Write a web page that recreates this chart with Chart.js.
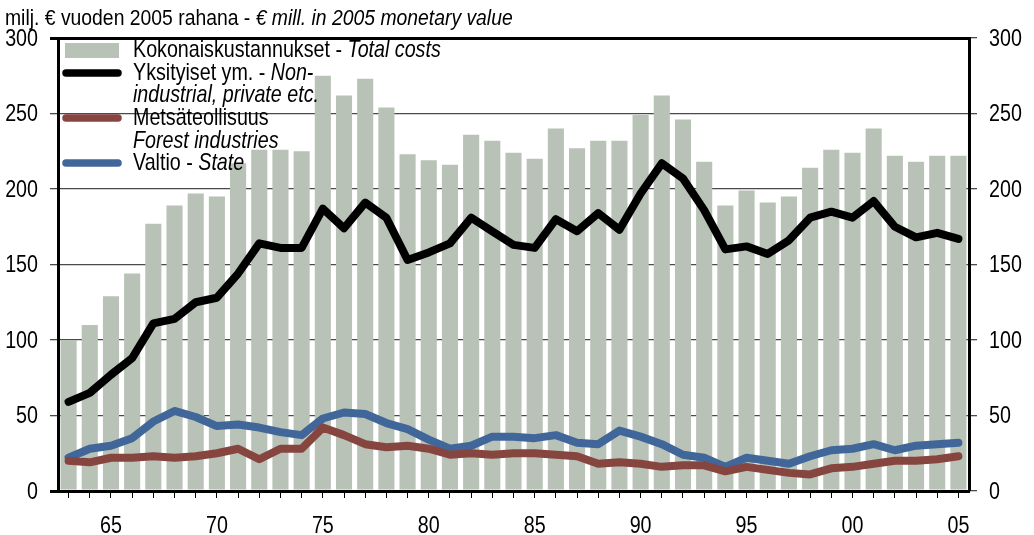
<!DOCTYPE html>
<html>
<head>
<meta charset="utf-8">
<script src="https://cdn.jsdelivr.net/npm/chart.js@4.4.0/dist/chart.umd.min.js"></script>
<style>
  html, body { margin: 0; padding: 0; background: #fff; }
  #wrap { width: 1034px; height: 535px; }
</style>
</head>
<body>
<div id="wrap"><canvas id="kustannukset"></canvas></div>
<script>
// years 1963 - 2005
const years = [1963, 1964, 1965, 1966, 1967, 1968, 1969, 1970, 1971, 1972,
  1973, 1974, 1975, 1976, 1977, 1978, 1979, 1980, 1981, 1982,
  1983, 1984, 1985, 1986, 1987, 1988, 1989, 1990, 1991, 1992,
  1993, 1994, 1995, 1996, 1997, 1998, 1999, 2000, 2001, 2002,
  2003, 2004, 2005];

// Kokonaiskustannukset - Total costs
const totalCosts = [100, 110, 129, 144, 177, 189, 197, 195, 217, 226,
  226, 225, 275, 262, 273, 254, 223, 219, 216, 236,
  232, 224, 220, 240, 227, 232, 232, 249, 262, 246,
  218, 189, 199, 191, 195, 214, 226, 224, 240, 222,
  218, 222, 222];

// Yksityiset ym. - Non-industrial, private etc.
const privateOwners = [59, 65, 77, 88, 111, 114, 125, 128, 144, 164,
  161, 161, 187, 174, 191, 181, 153, 158, 164, 181,
  172, 163, 161, 180, 172, 184, 173, 197, 217, 207,
  186, 160, 162, 157, 166, 181, 185, 181, 192, 175,
  168, 171, 167];

// Metsäteollisuus - Forest industries
const forestIndustries = [20, 19, 22, 22, 23, 22, 23, 25, 28, 21,
  28, 28, 42, 37, 31, 29, 30, 28, 24, 25,
  24, 25, 25, 24, 23, 18, 19, 18, 16, 17,
  17, 13, 16, 14, 12, 11, 15, 16, 18, 20,
  20, 21, 23];

// Valtio - State
const state = [22, 28, 30, 35, 46, 53, 49, 43, 44, 42,
  39, 37, 48, 52, 51, 45, 41, 34, 28, 30,
  36, 36, 35, 37, 32, 31, 40, 36, 31, 24,
  22, 16, 22, 20, 18, 23, 27, 28, 31, 27,
  30, 31, 32];

const yTicks = [0, 50, 100, 150, 200, 250, 300];
const xTickLabels = ['65', '70', '75', '80', '85', '90', '95', '00', '05'];

const titleParts = [['milj. € vuoden 2005 rahana - ', false], ['€ mill. in 2005 monetary value', true]];
const legendLines = [
  [['Kokonaiskustannukset - ', false], ['Total costs', true]],
  [['Yksityiset ym. - ', false], ['Non-', true]],
  [['industrial, private etc.', true]],
  [['Metsäteollisuus', false]],
  [['Forest industries', true]],
  [['Valtio - ', false], ['State', true]]
];

// no narrow font installed: squeeze Liberation Sans horizontally instead
const FONT = '"Liberation Sans", Arial, sans-serif';
const SQUEEZE = 0.82;
const BAR = '#b8c2b6';
const BLACK = '#000000';
const BROWN = '#874540';
const BLUE = '#41679a';

// draws italic/regular pieces one after another, squeezed
function drawParts(ctx, parts, x, y, size, squeeze) {
  ctx.save();
  ctx.translate(x, y);
  ctx.scale(squeeze, 1);
  let dx = 0;
  parts.forEach(function (p) {
    ctx.font = (p[1] ? 'italic ' : '') + size + 'px ' + FONT;
    ctx.fillText(p[0], dx, 0);
    dx += ctx.measureText(p[0]).width;
  });
  ctx.restore();
}

function drawLabel(ctx, text, x, y, align) {
  ctx.save();
  ctx.translate(x, y);
  ctx.scale(SQUEEZE, 1);
  ctx.font = '24px ' + FONT;
  ctx.textAlign = align;
  ctx.textBaseline = 'middle';
  ctx.fillText(text, 0, 0);
  ctx.restore();
}

const textPlugin = {
  id: 'textAndLegend',
  afterDraw(chart) {
    const ctx = chart.ctx;
    const yL = chart.scales.y, yR = chart.scales.y2, xs = chart.scales.x;
    ctx.save();
    ctx.fillStyle = '#000';
    ctx.textBaseline = 'middle';
    ctx.textAlign = 'left';

    // tick labels
    yTicks.forEach(function (v) {
      const py = yL.getPixelForValue(v) + 1;
      drawLabel(ctx, String(v), yL.right - 20, py, 'right');
      drawLabel(ctx, String(v), yR.left + 20, py, 'left');
    });
    years.forEach(function (yr, i) {
      const lab = String(yr).slice(2);
      if (xTickLabels.indexOf(lab) >= 0 && yr % 5 === 0) {
        drawLabel(ctx, lab, xs.getPixelForValue(i), xs.top + 35, 'center');
      }
    });

    // title
    ctx.textAlign = 'left';
    drawParts(ctx, titleParts, 5, 19, 22.5, 0.86);

    // legend
    const rowY = [50, 73, 95.5, 118, 141, 163];
    ctx.fillStyle = BAR;
    ctx.fillRect(65, 43, 54, 15);
    const swatches = [[1, BLACK], [3, BROWN], [5, BLUE]];
    ctx.lineWidth = 7.5;
    ctx.lineCap = 'round';
    swatches.forEach(function (s) {
      ctx.strokeStyle = s[1];
      ctx.beginPath();
      ctx.moveTo(66, rowY[s[0]]);
      ctx.lineTo(118, rowY[s[0]]);
      ctx.stroke();
    });
    ctx.fillStyle = '#000';
    legendLines.forEach(function (line, i) {
      drawParts(ctx, line, 133, rowY[i], 24, SQUEEZE);
    });
    ctx.restore();
  }
};

const lineDefaults = {
  type: 'line',
  borderWidth: 8,
  pointRadius: 0,
  pointHoverRadius: 0,
  borderCapStyle: 'round',
  borderJoinStyle: 'round',
  tension: 0,
  order: 1
};

function fixedTicks(axis) {
  axis.ticks = yTicks.map(function (v) { return { value: v }; });
}

new Chart(document.getElementById('kustannukset'), {
  type: 'bar',
  data: {
    labels: years,
    datasets: [
      {
        label: 'Kokonaiskustannukset - Total costs',
        data: totalCosts,
        backgroundColor: BAR,
        barPercentage: 0.76,
        categoryPercentage: 1,
        order: 2
      },
      Object.assign({ label: 'Metsäteollisuus - Forest industries', data: forestIndustries, borderColor: BROWN }, lineDefaults),
      Object.assign({ label: 'Valtio - State', data: state, borderColor: BLUE }, lineDefaults),
      Object.assign({ label: 'Yksityiset ym. - Non-industrial, private etc.', data: privateOwners, borderColor: BLACK }, lineDefaults)
    ]
  },
  options: {
    responsive: true,
    maintainAspectRatio: false,
    animation: false,
    layout: { padding: { left: 0, right: 0, top: 38, bottom: 0 } },
    plugins: {
      legend: { display: false },
      title: { display: false },
      tooltip: { enabled: false }
    },
    scales: {
      x: {
        offset: true,
        afterFit: function (s) { s.height = 44; },
        grid: {
          offset: false,
          drawOnChartArea: false,
          drawTicks: true,
          tickLength: 7,
          color: '#000',
          lineWidth: 1
        },
        border: { display: true, color: '#000', width: 3 },
        ticks: { display: false, autoSkip: false }
      },
      y: {
        min: 0,
        max: 300,
        afterBuildTicks: fixedTicks,
        afterFit: function (s) { s.width = 58; },
        grid: {
          color: function (c) { return c.tick && (c.tick.value === 300 || c.tick.value === 0) ? '#000' : '#4a4a4a'; },
          lineWidth: function (c) { return c.tick && (c.tick.value === 300 || c.tick.value === 0) ? 3 : 1.3; },
          tickLength: 8
        },
        border: { display: true, color: '#000', width: 3 },
        ticks: { display: false }
      },
      y2: {
        position: 'right',
        min: 0,
        max: 300,
        afterBuildTicks: fixedTicks,
        afterFit: function (s) { s.width = 65; },
        grid: { drawOnChartArea: false, tickLength: 8, color: '#4a4a4a', lineWidth: 1.3 },
        border: { display: true, color: '#000', width: 3 },
        ticks: { display: false }
      }
    }
  },
  plugins: [textPlugin]
});
</script>
</body>
</html>
